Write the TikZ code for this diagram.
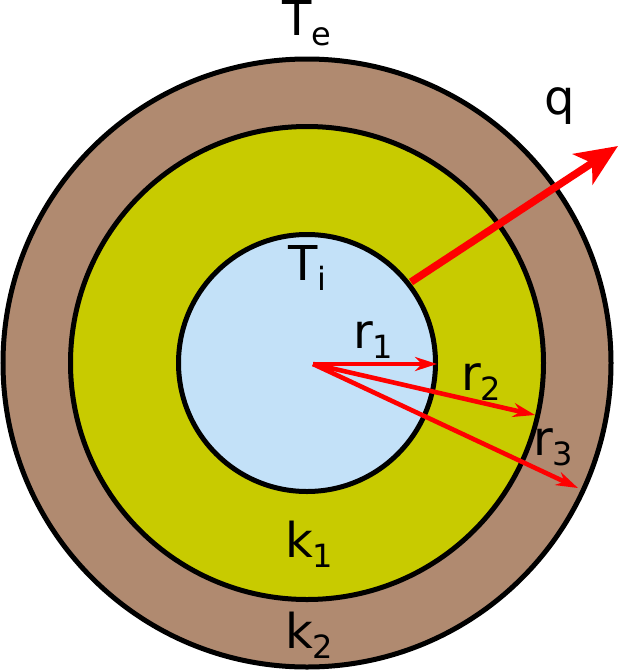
\documentclass[tikz,border=0pt]{standalone}
\usepackage{fontspec}
\setmainfont{DejaVu Sans}
\usetikzlibrary{arrows.meta}
\definecolor{outerc}{RGB}{176,138,112}
\definecolor{midc}{RGB}{200,203,0}
\definecolor{innerc}{RGB}{195,225,248}
\definecolor{redc}{RGB}{255,0,0}
\newcommand{\mylab}[2]{#1\raisebox{-10pt}{\fontsize{32}{32}\selectfont #2}}
\tikzset{
  ring/.style={draw=black, line width=5pt},
  lab/.style={anchor=base west, inner sep=0pt, outer sep=0pt, font=\fontsize{48}{50}\selectfont},
  rarrow/.style={draw=redc, line width=4.6pt, -{Stealth[length=22pt,width=14pt,inset=7pt]}},
  qarrow/.style={draw=redc, line width=7.5pt, -{Stealth[length=42pt,width=36pt,inset=11pt]}}
}
\begin{document}
\begin{tikzpicture}[x=1pt,y=-1pt]
\useasboundingbox (0,0) rectangle (619,670);
\coordinate (c) at (307,363);
\node[ring, fill=outerc, circle, minimum size=608pt, inner sep=0pt] (outer) at (c) {};
\node[ring, fill=midc, circle, minimum size=473pt, inner sep=0pt] (mid) at (c) {};
\node[ring, fill=innerc, circle, minimum size=257pt, inner sep=0pt] (inner) at (c) {};
\coordinate (o) at (313,364);
\coordinate (t1) at (437,364);
\coordinate (t2) at (535,415);
\coordinate (t3) at (578,488);
\coordinate (qs) at (411,282);
\coordinate (qt) at (618,146);
\draw[rarrow] (o) -- (t1);
\draw[rarrow] (o) -- (t2);
\draw[rarrow] (o) -- (t3);
\draw[qarrow] (qs) -- (qt);
\node[lab] (Te) at (282,35) {\mylab{T}{e}};
\node[lab] (q) at (544,114) {q};
\node[lab] (Ti) at (288,280) {\mylab{T}{i}};
\node[lab] (r1) at (353,348) {\mylab{r}{1}};
\node[lab] (r2) at (461,390) {\mylab{r}{2}};
\node[lab] (r3) at (533,455) {\mylab{r}{3}};
\node[lab] (k1) at (285,557) {\mylab{k}{1}};
\node[lab] (k2) at (285,648) {\mylab{k}{2}};
\end{tikzpicture}
\end{document}
